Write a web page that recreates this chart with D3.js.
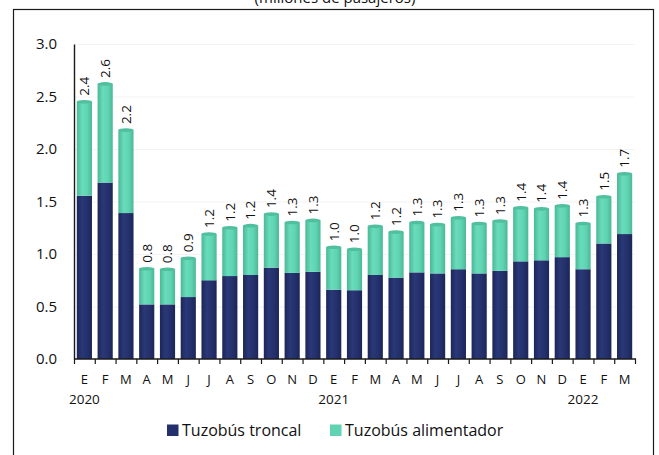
<!DOCTYPE html>
<html>
<head>
<meta charset="utf-8">
<script src="https://cdn.jsdelivr.net/npm/d3@7"></script>
<style>
    body { margin: 0; background: #fff; }
    svg { display: block; font-family: "Open Sans", "Liberation Sans", sans-serif; }
</style>
</head>
<body>
<div id="chart"></div>
<script>
// meses (E 2020 ... M 2022)
var meses = ["E", "F", "M", "A", "M", "J", "J", "A", "S", "O", "N", "D",
    "E", "F", "M", "A", "M", "J", "J", "A", "S", "O", "N", "D",
    "E", "F", "M"];

var anios = [{ idx: 0, label: "2020" }, { idx: 12, label: "2021" }, { idx: 24, label: "2022" }];

// millones de pasajeros
var troncal = [1.555, 1.68, 1.39, 0.52, 0.52, 0.59, 0.75, 0.79, 0.80, 0.87, 0.82, 0.83,
    0.66, 0.655, 0.80, 0.775, 0.825, 0.815, 0.855, 0.815, 0.84, 0.93, 0.94, 0.97,
    0.855, 1.10, 1.19];

var alimentador = [0.895, 0.94, 0.79, 0.34, 0.335, 0.37, 0.44, 0.46, 0.47, 0.51, 0.48, 0.49,
    0.405, 0.39, 0.465, 0.435, 0.475, 0.465, 0.49, 0.475, 0.475, 0.51, 0.49, 0.49,
    0.435, 0.445, 0.575];

var totales = ["2.4", "2.6", "2.2", "0.8", "0.8", "0.9", "1.2", "1.2", "1.2", "1.4", "1.3", "1.3",
    "1.0", "1.0", "1.2", "1.2", "1.3", "1.3", "1.3", "1.3", "1.3", "1.4", "1.4", "1.4",
    "1.3", "1.5", "1.7"];

var yTicks = [0, 0.5, 1, 1.5, 2, 2.5, 3];

var series = ["Tuzobús troncal", "Tuzobús alimentador"];

var colores = {
    troncal: "#23306b",
    alimentador: "#5fd3b2"
};

var W = 659, H = 455;

var svg = d3.select("#chart").append("svg")
    .attr("width", W)
    .attr("height", H);

var defs = svg.append("defs");

function cylinder(id, edge, mid, light) {
    var g = defs.append("linearGradient")
        .attr("id", id)
        .attr("x1", "0%").attr("x2", "100%")
        .attr("y1", "0%").attr("y2", "0%");
    g.append("stop").attr("offset", "0%").attr("stop-color", edge);
    g.append("stop").attr("offset", "35%").attr("stop-color", light);
    g.append("stop").attr("offset", "70%").attr("stop-color", mid);
    g.append("stop").attr("offset", "100%").attr("stop-color", edge);
}
cylinder("gTroncal", "#1b2658", colores.troncal, "#2a3878");
cylinder("gAlim", "#4bb796", colores.alimentador, "#68dcbb");

// marco
svg.append("rect")
    .attr("x", 13.5)
    .attr("y", 9.5)
    .attr("width", 640)
    .attr("height", 460)
    .attr("fill", "none")
    .attr("stroke", "#1a1a1a")
    .attr("stroke-width", 1.2);

// titulo (cortado arriba, como en el original)
svg.append("text")
    .attr("x", 335)
    .attr("y", 2.5)
    .attr("text-anchor", "middle")
    .attr("font-size", "15px")
    .attr("fill", "#111")
    .text("(millones de pasajeros)");

var x = d3.scaleBand()
    .domain(d3.range(meses.length))
    .range([74, 635])
    .paddingInner(0.27)
    .paddingOuter(0.135);

var y = d3.scaleLinear()
    .domain([0, 3])
    .range([359, 44]);

var step = x.step();

// lineas guia
svg.append("g").selectAll("line")
    .data(yTicks.filter(function(d) { return d > 0; }))
    .enter().append("line")
    .attr("x1", 75)
    .attr("x2", 635)
    .attr("y1", function(d) { return y(d) + 0.5; })
    .attr("y2", function(d) { return y(d) + 0.5; })
    .attr("stroke", "#f3f3f3")
    .attr("stroke-width", 1);

var stacked = meses.map(function(m, i) {
    return { i: i, t: troncal[i], a: alimentador[i] };
});

var bars = svg.append("g");

bars.selectAll(".b-troncal")
    .data(stacked)
    .enter().append("rect")
    .attr("class", "b-troncal")
    .attr("x", function(d) { return x(d.i); })
    .attr("width", x.bandwidth())
    .attr("y", function(d) { return y(d.t); })
    .attr("height", function(d) { return y(0) - y(d.t); })
    .attr("fill", "url(#gTroncal)");

bars.selectAll(".b-alim")
    .data(stacked)
    .enter().append("rect")
    .attr("class", "b-alim")
    .attr("x", function(d) { return x(d.i); })
    .attr("width", x.bandwidth())
    .attr("y", function(d) { return y(d.t + d.a); })
    .attr("height", function(d) { return y(d.t) - y(d.t + d.a); })
    .attr("fill", "url(#gAlim)");

// tapa del cilindro
bars.selectAll(".cap")
    .data(stacked)
    .enter().append("ellipse")
    .attr("class", "cap")
    .attr("cx", function(d) { return x(d.i) + x.bandwidth() / 2; })
    .attr("cy", function(d) { return y(d.t + d.a); })
    .attr("rx", x.bandwidth() / 2)
    .attr("ry", 1.8)
    .attr("fill", "#4fbf9e");

// etiquetas de total
svg.append("g").selectAll("text")
    .data(stacked)
    .enter().append("text")
    .attr("transform", function(d) {
        return "translate(" + (x(d.i) + x.bandwidth() / 2) + "," + (y(d.t + d.a) - 6) + ") rotate(-90)";
    })
    .attr("dy", "0.36em")
    .attr("text-anchor", "start")
    .attr("font-size", "13.5px")
    .attr("fill", "#111")
    .text(function(d) { return totales[d.i]; });

// eje y
var yAxis = svg.append("g")
    .attr("transform", "translate(74,0)")
    .call(d3.axisLeft(y).tickValues(yTicks).tickSize(0).tickPadding(17).tickFormat(d3.format(".1f")));
yAxis.select(".domain").attr("stroke", "#1a1a1a").attr("stroke-width", 1.4);
yAxis.selectAll("text")
    .attr("font-size", "15px")
    .attr("font-family", "Open Sans")
    .attr("fill", "#111");

// eje x
var xg = svg.append("g");
xg.append("line")
    .attr("x1", 74).attr("x2", 636)
    .attr("y1", 359).attr("y2", 359)
    .attr("stroke", "#1a1a1a")
    .attr("stroke-width", 1.4);

xg.selectAll(".tick")
    .data(d3.range(meses.length + 1))
    .enter().append("line")
    .attr("class", "tick")
    .attr("x1", function(d) { return 74.5 + d * step; })
    .attr("x2", function(d) { return 74.5 + d * step; })
    .attr("y1", 359)
    .attr("y2", 364)
    .attr("stroke", "#1a1a1a")
    .attr("stroke-width", 1.2);

xg.selectAll(".mes")
    .data(meses)
    .enter().append("text")
    .attr("class", "mes")
    .attr("x", function(d, i) { return x(i) + x.bandwidth() / 2; })
    .attr("y", 384)
    .attr("text-anchor", "middle")
    .attr("font-size", "13px")
    .attr("fill", "#111")
    .text(function(d) { return d; });

xg.selectAll(".anio")
    .data(anios)
    .enter().append("text")
    .attr("class", "anio")
    .attr("x", function(d) { return x(d.idx) + x.bandwidth() / 2; })
    .attr("y", 404)
    .attr("text-anchor", "middle")
    .attr("font-size", "13.5px")
    .attr("fill", "#111")
    .text(function(d) { return d.label; });

// leyenda
var legendX = [167, 330];
var legendCol = [colores.troncal, colores.alimentador];
var legend = svg.append("g").selectAll("g")
    .data(series)
    .enter().append("g")
    .attr("transform", function(d, i) { return "translate(" + legendX[i] + ",424.5)"; });

legend.append("rect")
    .attr("width", 11.5)
    .attr("height", 11.5)
    .attr("fill", function(d, i) { return legendCol[i]; });

legend.append("text")
    .attr("x", 15)
    .attr("y", 6)
    .attr("dy", "0.36em")
    .attr("font-size", "16px")
    .attr("fill", "#111")
    .text(function(d) { return d; });
</script>
</body>
</html>
